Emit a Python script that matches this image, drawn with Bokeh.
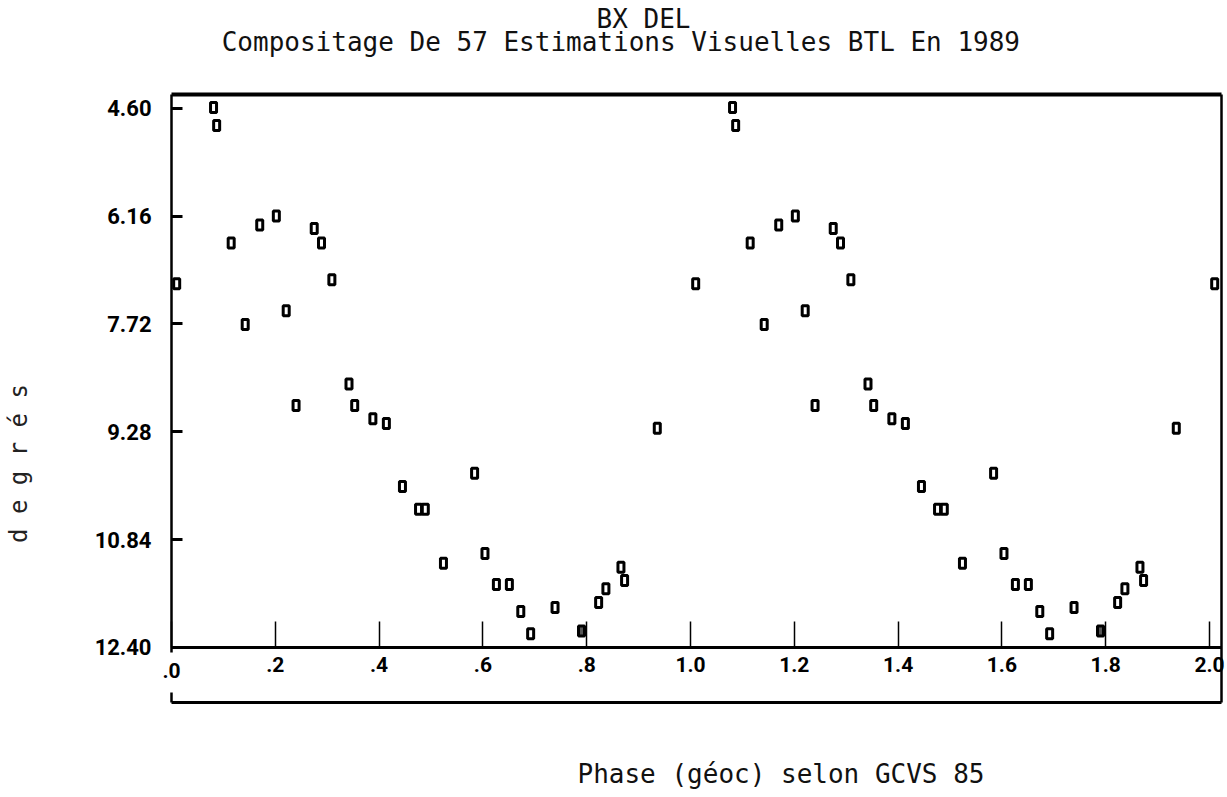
import numpy as np
from bokeh.plotting import figure
from bokeh.models import Range1d, FixedTicker, LinearAxis, Label, PrintfTickFormatter
from bokeh.embed import file_html
from bokeh.resources import INLINE

# ---- data (phase, magnitude/"degrés") ----
phase = [0.010, 0.081, 0.087, 0.115, 0.142, 0.170, 0.202, 0.221, 0.240, 0.275,
         0.289, 0.309, 0.342, 0.353, 0.388, 0.414, 0.445, 0.476, 0.489, 0.524,
         0.584, 0.604, 0.626, 0.651, 0.673, 0.692, 0.739, 0.823, 0.837, 0.866,
         0.873, 0.936]
mag = [7.14, 4.59, 4.85, 6.55, 7.73, 6.29, 6.16, 7.53, 8.90, 6.34,
       6.55, 7.08, 8.59, 8.90, 9.09, 9.16, 10.07, 10.40, 10.40, 11.18,
       9.88, 11.04, 11.49, 11.49, 11.88, 12.20, 11.82, 11.75, 11.55, 11.24,
       11.43, 9.23]
# overlapping estimates drawn as a filled mark
phase_dense = [0.790]
mag_dense = [12.16]

x_ticks = [0.0, 0.2, 0.4, 0.6, 0.8, 1.0, 1.2, 1.4, 1.6, 1.8, 2.0]
x_tick_labels = [".0", ".2", ".4", ".6", ".8", "1.0", "1.2", "1.4", "1.6", "1.8", "2.0"]
y_ticks = [4.60, 6.16, 7.72, 9.28, 10.84, 12.40]

title_main = "BX DEL"
title_sub = "Compositage De  57 Estimations Visuelles BTL  En 1989"
x_caption = "Phase (géoc)  selon GCVS 85"
y_caption = "d e g r é s"

# ---- page layout (pixels) ----
W, H = 1227, 797
X0_PX, PX_PER_PHASE = 171, 519.0          # phase 0 position, scale
Y460_PX, PX_PER_MAG = 107.7, 69.14        # 4.60 position, scale
BOX_L, BOX_R, BOX_T, BOX_B = 171, 1221, 94, 702
GAP_T, GAP_B = 652, 692                   # opening in the left border by ".0"

MONO = "DejaVu Sans Mono"
TICKFONT = "Roboto"


def px_to_x(px):
    return (px - X0_PX) / PX_PER_PHASE


def px_to_y(py):
    return y_ticks[0] + (py - Y460_PX) / PX_PER_MAG


X_BOX = px_to_x(BOX_R)
Y_TOP, Y_BOT = px_to_y(BOX_T), px_to_y(BOX_B)


def cycles(ph, mg, n=3):
    ph = np.asarray(ph)
    mg = np.asarray(mg)
    xs = np.concatenate([ph + k for k in range(n)])
    ys = np.concatenate([mg for _ in range(n)])
    keep = xs <= X_BOX
    return xs[keep], ys[keep]


p = figure(width=W, height=H, output_backend="svg", toolbar_location=None,
           x_range=Range1d(px_to_x(0), px_to_x(W)),
           y_range=Range1d(px_to_y(H), px_to_y(0)),
           x_axis_type=None, y_axis_type=None, title=None,
           min_border=0, min_border_left=0, min_border_right=0,
           min_border_top=0, min_border_bottom=0)
p.grid.visible = False
p.background_fill_color = "white"
p.border_fill_color = "white"
p.outline_line_color = None


def plain_axis(side, loc, bounds, width):
    ax = LinearAxis(fixed_location=loc, bounds=bounds, ticker=FixedTicker(ticks=[]))
    ax.axis_line_color = "black"
    ax.axis_line_width = width
    ax.major_tick_line_color = None
    ax.minor_tick_line_color = None
    ax.major_label_text_font_size = "0px"
    p.add_layout(ax, side)
    return ax


# box around the plot and its tick labels
plain_axis("above", Y_TOP, (0, X_BOX), 4)
plain_axis("right", X_BOX, (Y_TOP, Y_BOT), 2.5)
plain_axis("below", Y_BOT, (0, X_BOX), 3)
plain_axis("left", 0, (px_to_y(GAP_B), Y_BOT), 2.5)

# y axis on the left border
yaxis = LinearAxis(fixed_location=0, bounds=(Y_TOP, px_to_y(GAP_T)),
                   ticker=FixedTicker(ticks=y_ticks),
                   formatter=PrintfTickFormatter(format="%.2f"))
yaxis.axis_line_color = "black"
yaxis.axis_line_width = 2.5
yaxis.major_tick_in = 11
yaxis.major_tick_out = 0
yaxis.major_tick_line_width = 3
yaxis.minor_tick_line_color = None
yaxis.major_label_standoff = 20
yaxis.major_label_text_font = TICKFONT
yaxis.major_label_text_font_style = "bold"
yaxis.major_label_text_font_size = "22px"
yaxis.major_label_text_color = "black"
p.add_layout(yaxis, "left")

# x axis at magnitude 12.40 (ticks + centred labels)
x_over = dict(zip(x_ticks, x_tick_labels))
x_over[x_ticks[0]] = ""
xaxis = LinearAxis(fixed_location=y_ticks[-1], bounds=(0, X_BOX),
                   ticker=FixedTicker(ticks=x_ticks), major_label_overrides=x_over)
xaxis.axis_line_color = "black"
xaxis.axis_line_width = 3
xaxis.major_tick_in = 26
xaxis.major_tick_out = 0
xaxis.major_tick_line_width = 1.5
xaxis.minor_tick_line_color = None
xaxis.major_label_standoff = 10
xaxis.major_label_text_font = TICKFONT
xaxis.major_label_text_font_style = "bold"
xaxis.major_label_text_font_size = "21px"
xaxis.major_label_text_color = "black"
p.add_layout(xaxis, "below")

# the first label sits by the left border
xaxis0 = LinearAxis(fixed_location=y_ticks[-1], ticker=FixedTicker(ticks=x_ticks[:1]),
                    major_label_overrides={x_ticks[0]: x_tick_labels[0]})
xaxis0.axis_line_color = None
xaxis0.major_tick_line_color = None
xaxis0.minor_tick_line_color = None
xaxis0.major_label_standoff = 10
xaxis0.major_label_text_align = "left"
xaxis0.major_label_text_font = TICKFONT
xaxis0.major_label_text_font_style = "bold"
xaxis0.major_label_text_font_size = "21px"
xaxis0.major_label_text_color = "black"
p.add_layout(xaxis0, "below")

# texts (screen pixels from the lower-left corner)
common = dict(x_units="screen", y_units="screen", text_font=MONO,
              text_font_size="26px", text_color="#111111", text_baseline="middle")
p.add_layout(Label(x=643, y=H - 18, text=title_main, text_align="center", **common))
p.add_layout(Label(x=636, y=H - 41, text=title_sub, text_align="center", **common))
p.add_layout(Label(x=577, y=H - 773, text=x_caption, text_align="left", **common))
p.add_layout(Label(x=18, y=H - 463, text=y_caption, angle=np.pi / 2,
                   x_units="screen", y_units="screen", text_font=MONO,
                   text_font_size="24px", text_color="#222222",
                   text_baseline="middle", text_align="center"))

# data points
xs, ys = cycles(phase, mag)
p.rect(x=xs, y=ys, width=6, height=10, width_units="screen", height_units="screen",
       fill_color="white", line_color="black", line_width=3)
xd, yd = cycles(phase_dense, mag_dense)
p.rect(x=xd, y=yd, width=6, height=10, width_units="screen", height_units="screen",
       fill_color="#555555", line_color="black", line_width=3)

open("out.html", "w").write(file_html(p, INLINE))
